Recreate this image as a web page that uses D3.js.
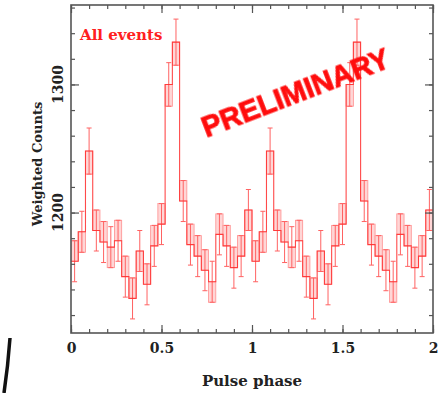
<!DOCTYPE html>
<html>
<head>
<meta charset="utf-8">
<script src="https://cdn.jsdelivr.net/npm/d3@7"></script>
<style>
  body { margin: 0; background: #fff; }
  svg { display: block; }
</style>
</head>
<body>
<div id="wrapper"></div>
<script>
// one pulse cycle, 25 bins of 0.04 in phase; the plot shows it twice
const binWidth = 0.04;
const cycles = [0, 1];
const counts = [1162, 1185, 1248, 1186, 1177, 1173, 1178, 1150, 1133, 1170, 1144, 1174, 1191,
                1300, 1333, 1209, 1175, 1166, 1155, 1146, 1183, 1174, 1157, 1166, 1202];
const errors = [16, 16, 18, 16, 16, 16, 16, 16, 16, 16, 16, 16, 16,
                17, 18, 16, 16, 16, 16, 16, 16, 16, 16, 16, 16];
// level of the second (pale) histogram in each bin
const altCounts = [1178, 1169, 1230, 1202, 1193, 1157, 1194, 1166, 1149, 1154, 1160, 1190, 1207,
                   1283, 1315, 1225, 1191, 1182, 1171, 1130, 1199, 1190, 1173, 1182, 1186];
const xTicks = [0, 0.5, 1, 1.5, 2];
const xMinorTicks = d3.range(0, 2.001, 0.1);
const yTicks = [1200, 1300];
const yMinorTicks = [1120, 1140, 1160, 1180, 1200, 1220, 1240, 1260, 1280, 1300, 1320, 1340, 1360];

const width = 441;
const height = 393;
const margin = {top: 5, right: 8, bottom: 60, left: 71};
const boundedWidth = width - margin.left - margin.right;
const boundedHeight = height - margin.top - margin.bottom;

const bins = [];
cycles.forEach(c => {
    counts.forEach((v, i) => {
        bins.push({
            x0: c + i * binWidth,
            x1: c + (i + 1) * binWidth,
            value: v,
            err: errors[i],
            alt: altCounts[i]
        });
    });
});

const svg = d3.select("#wrapper")
    .append("svg")
    .attr("width", width)
    .attr("height", height);

const bounds = svg.append("g")
    .attr("transform", `translate(${margin.left},${margin.top})`);

const xScale = d3.scaleLinear()
    .domain([0, 2])
    .range([0, boundedWidth]);

const yScale = d3.scaleLinear()
    .domain([1106, 1362])
    .range([boundedHeight, 0]);

const defs = svg.append("defs");
defs.append("clipPath").attr("id", "plotclip")
    .append("rect")
    .attr("width", boundedWidth)
    .attr("height", boundedHeight);

const data = bounds.append("g").attr("clip-path", "url(#plotclip)");

// pale boxes between the two histogram levels
data.selectAll(".box")
    .data(bins)
    .enter().append("rect")
    .attr("class", "box")
    .attr("x", d => xScale(d.x0))
    .attr("width", d => xScale(d.x1) - xScale(d.x0))
    .attr("y", d => yScale(Math.max(d.value, d.alt)))
    .attr("height", d => Math.abs(yScale(d.value) - yScale(d.alt)))
    .attr("fill", "#ffd6d6")
    .attr("stroke", "#ff9090")
    .attr("stroke-width", 0.8);

// error bars with caps
const errGroups = data.selectAll(".err")
    .data(bins)
    .enter().append("g")
    .attr("class", "err")
    .attr("stroke", "#ff6262")
    .attr("stroke-width", 1);

errGroups.append("line")
    .attr("x1", d => xScale((d.x0 + d.x1) / 2))
    .attr("x2", d => xScale((d.x0 + d.x1) / 2))
    .attr("y1", d => yScale(d.value - d.err))
    .attr("y2", d => yScale(d.value + d.err));

errGroups.append("line")
    .attr("x1", d => xScale((d.x0 + d.x1) / 2) - 2.5)
    .attr("x2", d => xScale((d.x0 + d.x1) / 2) + 2.5)
    .attr("y1", d => yScale(d.value + d.err))
    .attr("y2", d => yScale(d.value + d.err));

errGroups.append("line")
    .attr("x1", d => xScale((d.x0 + d.x1) / 2) - 2.5)
    .attr("x2", d => xScale((d.x0 + d.x1) / 2) + 2.5)
    .attr("y1", d => yScale(d.value - d.err))
    .attr("y2", d => yScale(d.value - d.err));

// main step histogram
const stepPoints = bins.map(d => [d.x0, d.value]);
stepPoints.push([bins[bins.length - 1].x1, bins[bins.length - 1].value]);

const stepLine = d3.line()
    .x(d => xScale(d[0]))
    .y(d => yScale(d[1]))
    .curve(d3.curveStepAfter);

data.append("path")
    .attr("d", stepLine(stepPoints))
    .attr("fill", "none")
    .attr("stroke", "#ff2a2a")
    .attr("stroke-width", 1.1)
    .attr("stroke-opacity", 0.85);

// axes: inward ticks on all four sides
const axisColor = "#555";

function styleAxis(g) {
    g.select(".domain").remove();
    g.selectAll(".tick line").attr("stroke", axisColor).attr("stroke-width", 1.2);
}

bounds.append("g")
    .attr("transform", `translate(0,${boundedHeight})`)
    .call(d3.axisBottom(xScale).tickValues(xMinorTicks).tickSize(-4).tickFormat(""))
    .call(styleAxis);

const xAxis = bounds.append("g")
    .attr("transform", `translate(0,${boundedHeight})`)
    .call(d3.axisBottom(xScale).tickValues(xTicks).tickSize(-8).tickPadding(10).tickFormat(d3.format("")))
    .call(styleAxis);

xAxis.selectAll("text")
    .attr("fill", "#222")
    .style("font-family", "DejaVu Serif")
    .style("font-weight", "bold")
    .style("font-size", "14px");

bounds.append("g")
    .call(d3.axisTop(xScale).tickValues(xMinorTicks).tickSize(-4).tickFormat(""))
    .call(styleAxis);

bounds.append("g")
    .call(d3.axisTop(xScale).tickValues(xTicks).tickSize(-8).tickFormat(""))
    .call(styleAxis);

bounds.append("g")
    .call(d3.axisLeft(yScale).tickValues(yMinorTicks).tickSize(-4).tickFormat(""))
    .call(styleAxis);

bounds.append("g")
    .call(d3.axisLeft(yScale).tickValues(yTicks).tickSize(-8).tickFormat(""))
    .call(styleAxis);

bounds.append("g")
    .attr("transform", `translate(${boundedWidth},0)`)
    .call(d3.axisRight(yScale).tickValues(yMinorTicks).tickSize(-4).tickFormat(""))
    .call(styleAxis);

bounds.append("g")
    .attr("transform", `translate(${boundedWidth},0)`)
    .call(d3.axisRight(yScale).tickValues(yTicks).tickSize(-8).tickFormat(""))
    .call(styleAxis);

bounds.append("rect")
    .attr("width", boundedWidth)
    .attr("height", boundedHeight)
    .attr("fill", "none")
    .attr("stroke", axisColor)
    .attr("stroke-width", 1.6);

// rotated y tick labels
bounds.selectAll(".y-label")
    .data(yTicks)
    .enter().append("text")
    .attr("class", "y-label")
    .attr("transform", d => `translate(-8,${yScale(d)}) rotate(-90)`)
    .attr("text-anchor", "middle")
    .attr("fill", "#222")
    .style("font-family", "DejaVu Serif")
    .style("font-weight", "bold")
    .style("font-size", "14px")
    .text(d => d);

// axis titles
svg.append("text")
    .attr("x", margin.left + boundedWidth / 2)
    .attr("y", 386)
    .attr("text-anchor", "middle")
    .attr("fill", "#222")
    .style("font-family", "DejaVu Serif")
    .style("font-weight", "bold")
    .style("font-size", "15px")
    .text("Pulse phase");

svg.append("text")
    .attr("transform", `translate(42,164) rotate(-90)`)
    .attr("text-anchor", "middle")
    .attr("fill", "#222")
    .style("font-family", "DejaVu Serif")
    .style("font-weight", "bold")
    .style("font-size", "13px")
    .text("Weighted Counts");

svg.append("text")
    .attr("x", 80)
    .attr("y", 40)
    .attr("fill", "#ff2020")
    .style("font-family", "DejaVu Serif")
    .style("font-weight", "bold")
    .style("font-size", "15px")
    .text("All events");

// stamp
const blur = defs.append("filter").attr("id", "soft");
blur.append("feGaussianBlur").attr("stdDeviation", 0.6);

svg.append("text")
    .attr("transform", "translate(299,102) rotate(-21)")
    .attr("text-anchor", "middle")
    .attr("fill", "#ff0a0a")
    .attr("stroke", "#ff0a0a")
    .attr("stroke-width", 0.8)
    .attr("filter", "url(#soft)")
    .style("font-family", "Liberation Sans")
    .style("font-weight", "bold")
    .style("font-size", "29px")
    .text("PRELIMINARY");

// dark edge in the lower left corner of the scan
svg.append("path")
    .attr("d", "M10,338 Q8,366 4,393")
    .attr("fill", "none")
    .attr("stroke", "#111")
    .attr("stroke-width", 3.5);
</script>
</body>
</html>
